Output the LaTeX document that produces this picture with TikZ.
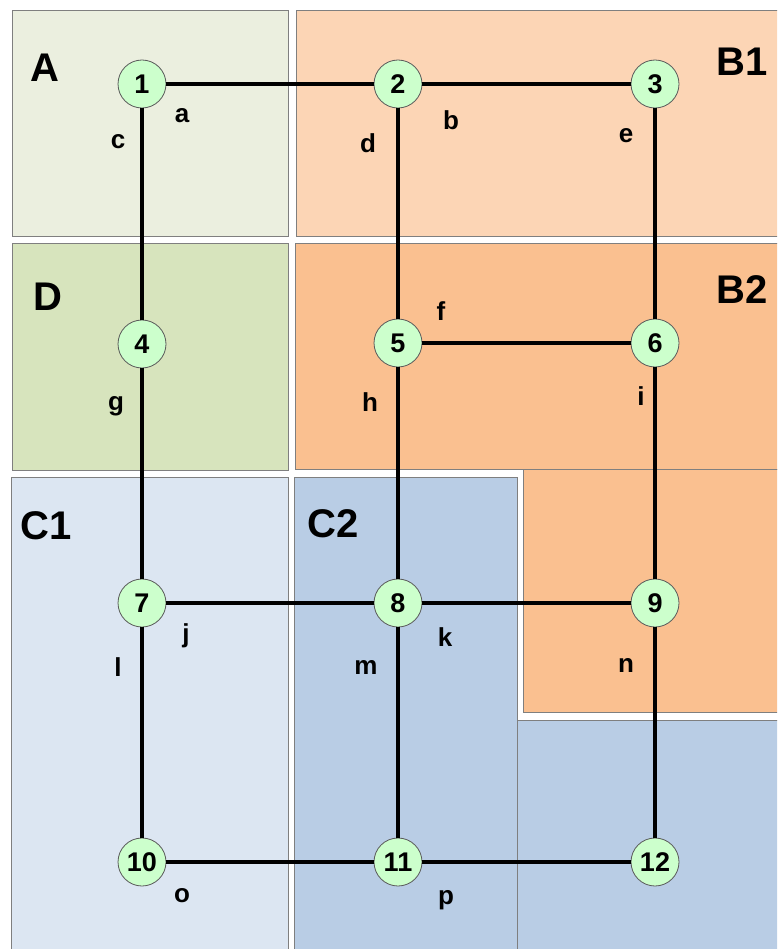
\documentclass[tikz,border=0pt]{standalone}
\usepackage{fontspec}
\setmainfont{Liberation Sans}
\definecolor{regA}{HTML}{EBEFDF}
\definecolor{regD}{HTML}{D7E4BD}
\definecolor{regBa}{HTML}{FCD5B5}
\definecolor{regBb}{HTML}{FAC090}
\definecolor{regCa}{HTML}{DCE6F2}
\definecolor{regCb}{HTML}{B9CDE5}
\definecolor{nodegreen}{HTML}{CCFFCC}
\definecolor{rborder}{HTML}{7F7F7F}
\begin{document}
\begin{tikzpicture}[x=1pt,y=-1pt,
  region/.style={draw=rborder, line width=0.9pt},
  vtx/.style={circle, draw=black!65, line width=0.8pt, fill=nodegreen, minimum size=48pt, inner sep=0pt,
    font=\fontsize{27}{27}\selectfont\bfseries},
  edge/.style={line width=3.3pt},
  elab/.style={font=\fontsize{26}{26}\selectfont\bfseries, inner sep=0pt},
  rlab/.style={font=\fontsize{40}{40}\selectfont\bfseries, inner sep=0pt}]
\useasboundingbox (0,0) rectangle (777,949);
\clip (0,0) rectangle (777,949);
\fill[white] (0,0) rectangle (777,949);
% regions
\draw[region, fill=regA] (12,10) rectangle (288,236);
\draw[region, fill=regBa] (296,10) rectangle (790,236);
\draw[region, fill=regD] (12,243) rectangle (288,470);
\draw[region, fill=regBb] (295,243) rectangle (790,469);
\draw[region, fill=regBb] (523,469) rectangle (790,712);
\draw[region, fill=regCa] (11,477) rectangle (288,960);
\draw[region, fill=regCb] (294,477) rectangle (517,960);
\draw[region, fill=regCb] (517,720) rectangle (790,960);
% region labels
\node[rlab] (tA) at (45,68) {A};
\node[rlab] (tB1) at (742,62) {B1};
\node[rlab] (tD) at (48,297) {D};
\node[rlab] (tB2) at (742,290) {B2};
\node[rlab] (tC1) at (46,526) {C1};
\node[rlab] (tC2) at (333,524) {C2};
% vertices
\node[vtx] (n1) at (142,84) {1};
\node[vtx] (n2) at (398,84) {2};
\node[vtx] (n3) at (655,84) {3};
\node[vtx] (n4) at (142,344) {4};
\node[vtx] (n5) at (398,343) {5};
\node[vtx] (n6) at (655,343) {6};
\node[vtx] (n7) at (142,603) {7};
\node[vtx] (n8) at (398,603) {8};
\node[vtx] (n9) at (655,603) {9};
\node[vtx] (n10) at (142,862) {10};
\node[vtx] (n11) at (398,862) {11};
\node[vtx] (n12) at (655,862) {12};
% edges
\draw[edge] (n1) -- (n2);
\draw[edge] (n2) -- (n3);
\draw[edge] (n1) -- (n4);
\draw[edge] (n2) -- (n5);
\draw[edge] (n3) -- (n6);
\draw[edge] (n5) -- (n6);
\draw[edge] (n4) -- (n7);
\draw[edge] (n5) -- (n8);
\draw[edge] (n6) -- (n9);
\draw[edge] (n7) -- (n8);
\draw[edge] (n8) -- (n9);
\draw[edge] (n7) -- (n10);
\draw[edge] (n8) -- (n11);
\draw[edge] (n9) -- (n12);
\draw[edge] (n10) -- (n11);
\draw[edge] (n11) -- (n12);
% edge labels
\node[elab] (la) at (182,116) {a};
\node[elab] (lb) at (451,120) {b};
\node[elab] (lc) at (118,142) {c};
\node[elab] (ld) at (368,143) {d};
\node[elab] (le) at (626,136) {e};
\node[elab] (lf) at (441,311) {f};
\node[elab] (lg) at (116,406) {g};
\node[elab] (lh) at (370,402) {h};
\node[elab] (li) at (641,396) {i};
\node[elab] (lj) at (186,636) {j};
\node[elab] (lk) at (445,637) {k};
\node[elab] (ll) at (118,667) {l};
\node[elab] (lm) at (366,667) {m};
\node[elab] (ln) at (626,665) {n};
\node[elab] (lo) at (182,896) {o};
\node[elab] (lp) at (446,900) {p};
\end{tikzpicture}
\end{document}
